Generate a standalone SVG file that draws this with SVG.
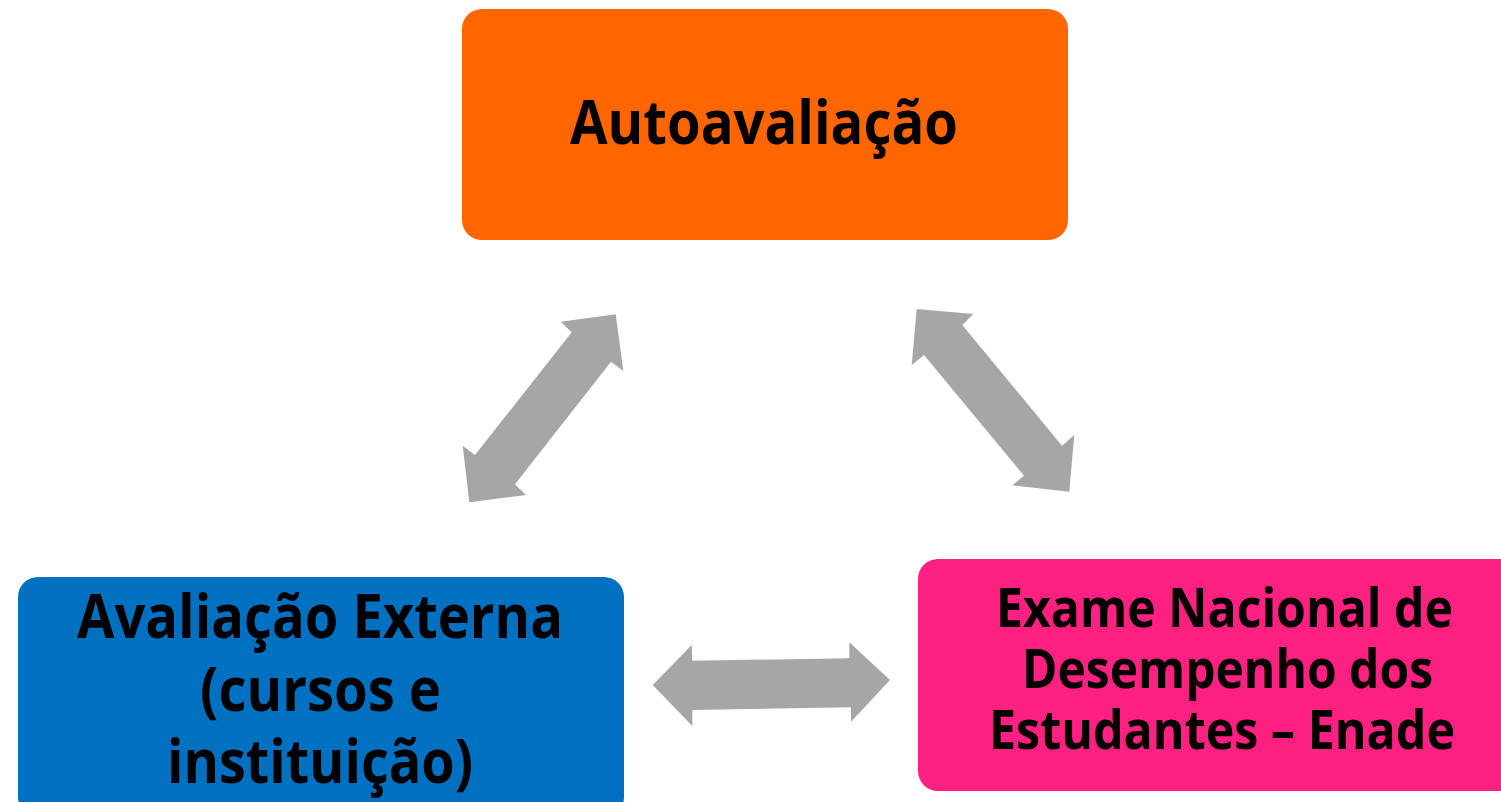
<svg xmlns="http://www.w3.org/2000/svg" width="1501" height="802" viewBox="0 0 1501 802">
<style>
.lbl{font-family:"Open Sans","Liberation Sans",sans-serif;font-weight:700;fill:#000;text-anchor:middle}
.arrow{fill:#A6A6A6}
</style>
<rect width="1501" height="802" fill="#fff"/>
<g id="node-autoavaliacao">
<rect x="462" y="9" width="606" height="231" rx="20" fill="#FF6600"/>
<text class="lbl" x="764" y="144" font-size="60" textLength="388" lengthAdjust="spacingAndGlyphs">Autoavaliação</text>
</g>
<g id="node-avaliacao-externa">
<rect x="18" y="577" width="606" height="240" rx="20" fill="#0070C0"/>
<text class="lbl" x="320" y="638" font-size="60" textLength="486" lengthAdjust="spacingAndGlyphs">Avaliação Externa</text>
<text class="lbl" x="320.5" y="711" font-size="60" textLength="241" lengthAdjust="spacingAndGlyphs">(cursos e</text>
<text class="lbl" x="320" y="783" font-size="60" textLength="306" lengthAdjust="spacingAndGlyphs">instituição)</text>
</g>
<g id="node-enade">
<rect x="918" y="559" width="620" height="232" rx="20" fill="#FF2181"/>
<text class="lbl" x="1224.5" y="627" font-size="53" textLength="457" lengthAdjust="spacingAndGlyphs">Exame Nacional de</text>
<text class="lbl" x="1227.5" y="688" font-size="53" textLength="411" lengthAdjust="spacingAndGlyphs">Desempenho dos</text>
<text class="lbl" x="1222" y="749" font-size="53" textLength="466" lengthAdjust="spacingAndGlyphs">Estudantes – Enade</text>
</g>
<g id="connectors">
<polygon class="arrow" points="560.7,321.7 615.7,314.3 623.3,371 611,361.7 515,484.3 526,495 469.3,502.3 462.7,445.7 475,455 571.7,332.3"/>
<polygon class="arrow" points="916.7,309 973.3,314 962.3,325 1062,445.7 1074.3,435 1069.3,491.7 1012.3,485.3 1024,475.7 924,355 911.7,365"/>
<polygon class="arrow" points="652.7,685 691.7,645 692.3,660.7 849.3,658.3 849.3,642.3 890,680 851,721.7 851,707.3 692.3,710 692.3,726"/>
</g>
</svg>
